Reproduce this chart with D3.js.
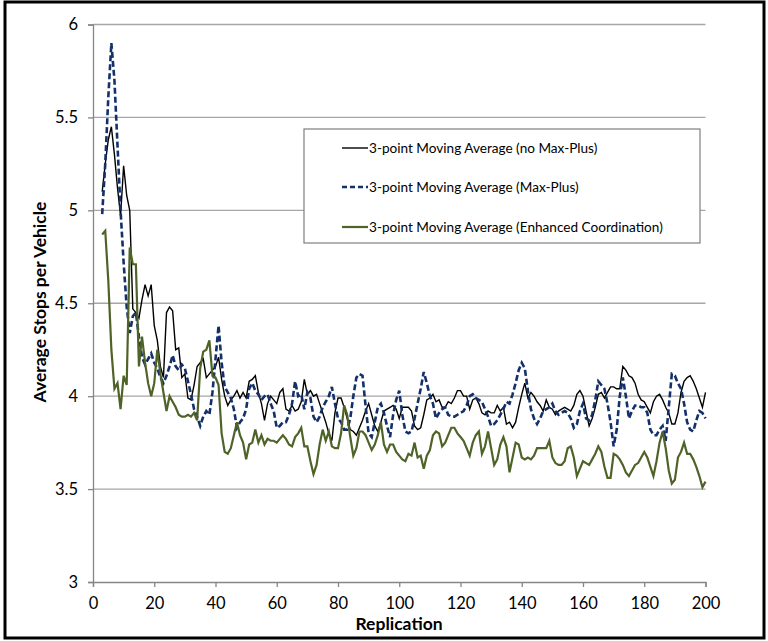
<!DOCTYPE html>
<html>
<head>
<meta charset="utf-8">
<script src="https://cdn.jsdelivr.net/npm/d3@7/dist/d3.min.js"></script>
<style>
  body { margin: 0; background: #fff; }
  svg { display: block; font-family: Lato, "Open Sans", sans-serif; }
</style>
</head>
<body>
<svg width="768" height="641"></svg>
<script>
"use strict"

// replication numbers (3-point moving average starts at 3)
var startRep = 3;

var noMaxPlus = [
    5.10, 5.25, 5.38, 5.45, 5.30, 5.12, 4.97, 5.24, 5.08, 5.00,
    4.47, 4.45, 4.42, 4.52, 4.60, 4.54, 4.60, 4.38, 4.30, 4.16,
    4.10, 4.45, 4.48, 4.46, 4.25, 4.26, 4.10, 4.12, 3.99, 3.98,
    4.06, 4.16, 4.18, 4.20, 4.10, 4.12, 4.14, 4.16, 4.21, 4.09,
    4.00, 3.95, 3.98, 4.00, 4.03, 3.99, 4.02, 3.99, 4.08, 4.09,
    4.11, 4.02, 3.96, 3.87, 3.96, 4.00, 3.98, 3.96, 4.02, 4.04,
    3.93, 3.92, 3.95, 3.92, 3.93, 3.97, 4.09, 4.01, 4.03, 4.00,
    4.01, 3.96, 3.91, 3.86, 3.80, 3.76, 3.91, 3.99, 3.99, 3.94,
    3.88, 3.82, 3.81, 3.79, 3.83, 3.87, 3.92, 3.96, 3.90, 3.84,
    3.81, 3.86, 3.92, 3.93, 3.94, 3.95, 3.93, 3.88, 3.94, 3.94,
    3.94, 3.92, 3.84, 3.82, 3.83, 3.90, 3.98, 3.99, 4.01, 3.97,
    3.98, 3.94, 3.94, 3.97, 3.96, 3.99, 4.03, 4.03, 4.00, 4.00,
    3.93, 3.98, 3.99, 3.96, 3.91, 3.90, 3.92, 3.91, 3.91, 3.95,
    3.92, 3.94, 3.85, 3.86, 3.83, 3.86, 3.94, 4.01, 4.07, 3.99,
    4.02, 4.00, 3.97, 3.95, 3.92, 3.98, 3.94, 3.93, 3.90, 3.92,
    3.93, 3.94, 3.93, 3.92, 3.95, 4.01, 4.03, 4.00, 3.92, 3.84,
    3.88, 3.94, 4.01, 4.02, 3.99, 4.02, 4.05, 4.05, 4.04, 4.04,
    4.16, 4.14, 4.11, 4.10, 4.07, 4.01, 3.98, 3.97, 3.94, 3.91,
    3.97, 4.00, 4.01, 3.98, 3.94, 3.91, 3.85, 3.85, 3.91, 4.02,
    4.08, 4.10, 4.11, 4.08, 4.04, 3.99, 3.94, 4.02
];

var maxPlus = [
    4.98, 5.25, 5.61, 5.90, 5.70, 5.35, 5.00, 4.72, 4.48, 4.34,
    4.43, 4.45, 4.32, 4.21, 4.17, 4.20, 4.23, 4.18, 4.15, 4.10,
    4.07, 4.11, 4.16, 4.22, 4.16, 4.14, 4.17, 4.15, 4.08, 4.01,
    3.93, 3.89, 3.84, 3.89, 3.92, 3.90, 4.02, 4.20, 4.38, 4.18,
    4.05, 4.02, 3.99, 3.93, 3.83, 3.86, 3.88, 3.93, 4.04, 4.07,
    4.03, 4.01, 3.98, 4.00, 4.01, 3.96, 3.92, 3.83, 3.84, 3.86,
    3.86, 3.90, 3.96, 4.08, 4.00, 4.01, 3.93, 4.02, 3.99, 3.89,
    3.86, 3.89, 3.94, 3.97, 4.00, 4.05, 3.96, 3.88, 3.86, 3.82,
    3.82, 3.88, 4.00, 4.10, 4.12, 4.11, 3.95, 3.80, 3.78, 3.86,
    3.94, 3.96, 3.91, 3.84, 3.78, 3.90, 3.98, 4.03, 3.90, 3.81,
    3.80, 3.81, 3.88, 3.96, 4.04, 4.13, 4.07, 4.00, 3.96, 3.88,
    3.91, 3.93, 3.94, 3.90, 3.89, 3.89, 3.90, 3.91, 3.92, 3.95,
    4.00, 4.01, 3.99, 3.98, 3.97, 3.93, 3.89, 3.84, 3.85, 3.87,
    3.90, 3.93, 3.97, 3.96, 4.01, 4.07, 4.14, 4.18, 4.15, 4.03,
    3.93, 3.88, 3.85, 3.88, 3.92, 3.93, 3.94, 3.96, 3.92, 3.90,
    3.91, 3.92, 3.91, 3.88, 3.83, 3.85, 3.92, 3.96, 3.88, 3.87,
    3.90, 3.98, 4.08, 4.06, 4.04, 3.96, 3.86, 3.73, 3.82, 4.00,
    4.10, 4.00, 3.88, 3.92, 3.95, 3.95, 3.94, 3.94, 3.91, 3.82,
    3.79, 3.79, 3.82, 3.84, 3.76, 3.94, 4.12, 4.11, 4.07, 4.04,
    3.96, 3.86, 3.82, 3.81, 3.87, 3.92, 3.91, 3.88
];

var enhanced = [
    4.87, 4.89, 4.62, 4.25, 4.04, 4.07, 3.93, 4.11, 4.06, 4.80,
    4.71, 4.71, 4.16, 4.32, 4.18, 4.07, 4.00, 4.07, 4.25, 4.12,
    4.02, 3.92, 4.00, 3.97, 3.94, 3.90, 3.89, 3.89, 3.90, 3.89,
    3.91, 3.87, 4.15, 4.24, 4.25, 4.30, 4.11, 4.10, 4.06, 3.80,
    3.70, 3.69, 3.72, 3.79, 3.86, 3.79, 3.75, 3.66, 3.74, 3.75,
    3.82, 3.75, 3.79, 3.74, 3.77, 3.76, 3.76, 3.75, 3.77, 3.79,
    3.77, 3.74, 3.73, 3.78, 3.80, 3.83, 3.73, 3.73, 3.65, 3.58,
    3.63, 3.74, 3.82, 3.76, 3.81, 3.73, 3.72, 3.72, 3.80, 3.95,
    3.90, 3.78, 3.68, 3.72, 3.81, 3.81, 3.79, 3.75, 3.71, 3.74,
    3.79, 3.86, 3.74, 3.70, 3.74, 3.74, 3.70, 3.68, 3.66, 3.65,
    3.69, 3.68, 3.75, 3.67, 3.68, 3.61, 3.68, 3.71, 3.79, 3.81,
    3.80, 3.73, 3.75, 3.79, 3.83, 3.83, 3.80, 3.78, 3.76, 3.72,
    3.68, 3.75, 3.79, 3.81, 3.69, 3.73, 3.81, 3.72, 3.63, 3.66,
    3.74, 3.78, 3.73, 3.59, 3.67, 3.75, 3.74, 3.67, 3.66, 3.67,
    3.66, 3.68, 3.72, 3.72, 3.72, 3.72, 3.76, 3.67, 3.64, 3.63,
    3.63, 3.65, 3.72, 3.73, 3.67, 3.57, 3.61, 3.65, 3.64, 3.63,
    3.66, 3.69, 3.73, 3.70, 3.62, 3.56, 3.56, 3.69, 3.68, 3.66,
    3.63, 3.59, 3.57, 3.60, 3.63, 3.64, 3.67, 3.70, 3.67, 3.62,
    3.57, 3.65, 3.75, 3.81, 3.72, 3.60, 3.53, 3.55, 3.67, 3.70,
    3.75, 3.69, 3.69, 3.66, 3.62, 3.57, 3.51, 3.54
];

var seriesNames = [
    "3-point Moving Average (no Max-Plus)",
    "3-point Moving Average (Max-Plus)",
    "3-point Moving Average (Enhanced Coordination)"
];
var xTicks = [0, 20, 40, 60, 80, 100, 120, 140, 160, 180, 200];
var yTicks = [3, 3.5, 4, 4.5, 5, 5.5, 6];

var svg = d3.select("svg");

// outer frame
svg.append("rect")
    .attr("x", 5).attr("y", 2).attr("width", 759).attr("height", 636)
    .attr("fill", "#fff").attr("stroke", "#000").attr("stroke-width", 3);

var x = d3.scaleLinear().domain([0, 200]).range([93, 705.5]);
var y = d3.scaleLinear().domain([3, 6]).range([582, 24.5]);

// gridlines
svg.append("g")
    .selectAll("line").data(yTicks.slice(1)).enter().append("line")
    .attr("x1", 93).attr("x2", 705.5)
    .attr("y1", function(d) { return y(d); })
    .attr("y2", function(d) { return y(d); })
    .attr("stroke", "#a6a6a6").attr("stroke-width", 1.4);

var yAxis = svg.append("g")
    .attr("transform", "translate(93,0)")
    .call(d3.axisLeft(y).tickValues(yTicks).tickSize(5).tickPadding(10)
        .tickFormat(d3.format("")));
var xAxis = svg.append("g")
    .attr("transform", "translate(0,582)")
    .call(d3.axisBottom(x).tickValues(xTicks).tickSize(5).tickPadding(10));

[yAxis, xAxis].forEach(function(a) {
    a.select(".domain").attr("stroke", "#868686").attr("stroke-width", 1.3);
    a.selectAll(".tick line").attr("stroke", "#868686").attr("stroke-width", 1.3);
    a.selectAll(".tick text")
        .attr("fill", "#000")
        .style("font-family", "Lato, 'Open Sans', sans-serif")
        .style("font-size", "16.5px");
});

// lines
var line = d3.line()
    .x(function(d, i) { return x(startRep + i); })
    .y(function(d) { return y(d); });

svg.append("path").datum(noMaxPlus)
    .attr("d", line).attr("fill", "none")
    .attr("stroke", "#000").attr("stroke-width", 1.4);
svg.append("path").datum(maxPlus)
    .attr("d", line).attr("fill", "none")
    .attr("stroke", "#13306b").attr("stroke-width", 2.6)
    .attr("stroke-dasharray", "6,3");
svg.append("path").datum(enhanced)
    .attr("d", line).attr("fill", "none")
    .attr("stroke", "#4f6228").attr("stroke-width", 2.2);

// axis titles
svg.append("text")
    .attr("transform", "translate(46,302) rotate(-90)")
    .attr("text-anchor", "middle")
    .style("font-weight", "bold").style("font-size", "17.5px")
    .text("Average Stops per Vehicle");
svg.append("text")
    .attr("x", 399).attr("y", 630)
    .attr("text-anchor", "middle")
    .style("font-weight", "bold").style("font-size", "17.5px")
    .text("Replication");

// legend
var legend = svg.append("g");
legend.append("rect")
    .attr("x", 304).attr("y", 129).attr("width", 396).attr("height", 114)
    .attr("fill", "#fff").attr("stroke", "#7f7f7f").attr("stroke-width", 1.2);
var legendStyles = [
    {stroke: "#000", width: 1.4, dash: null},
    {stroke: "#13306b", width: 2.6, dash: "5,3"},
    {stroke: "#4f6228", width: 2.2, dash: null}
];
var rowY = [148, 187, 227];
seriesNames.forEach(function(name, i) {
    legend.append("line")
        .attr("x1", 342).attr("x2", 368)
        .attr("y1", rowY[i]).attr("y2", rowY[i])
        .attr("stroke", legendStyles[i].stroke)
        .attr("stroke-width", legendStyles[i].width)
        .attr("stroke-dasharray", legendStyles[i].dash);
    legend.append("text")
        .attr("x", 369).attr("y", rowY[i]).attr("dy", "0.35em")
        .style("font-size", "13.6px")
        .text(name);
});
</script>
</body>
</html>
